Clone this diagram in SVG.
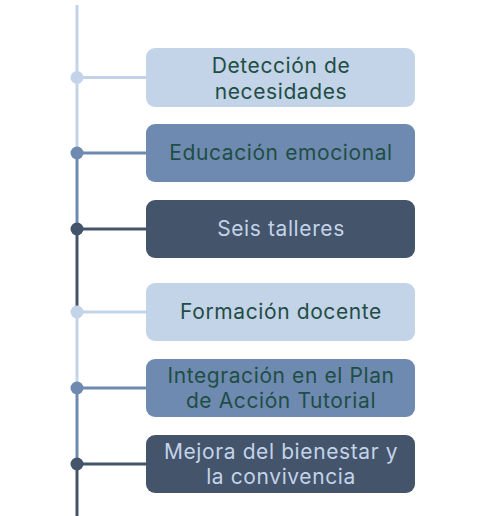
<svg xmlns="http://www.w3.org/2000/svg" width="477" height="516" viewBox="0 0 477 516">
<style>
.l{fill:#c3d3e8}.m{fill:#6f8ab1}.d{fill:#44546b}
.sl{stroke:#c3d3e8}.sm{stroke:#6f8ab1}.sd{stroke:#44546b}
line{stroke-width:3}
text{font-family:Inter,"Noto Sans",sans-serif;font-size:21px;letter-spacing:0.6px;text-anchor:middle}
.tg{fill:#1f4e44}.tl{fill:#c3d3e8}
</style>
<rect width="477" height="516" fill="#ffffff"/>
<g id="connectors">
<line class="sl" x1="77" y1="5" x2="77" y2="153"/>
<line class="sm" x1="77" y1="153" x2="77" y2="229"/>
<line class="sd" x1="77" y1="229" x2="77" y2="312"/>
<line class="sl" x1="77" y1="312" x2="77" y2="388"/>
<line class="sm" x1="77" y1="388" x2="77" y2="464"/>
<line class="sd" x1="77" y1="464" x2="77" y2="516"/>
<line class="sl" x1="77" y1="77.5" x2="150" y2="77.5"/>
<line class="sm" x1="77" y1="153" x2="150" y2="153"/>
<line class="sd" x1="77" y1="229" x2="150" y2="229"/>
<line class="sl" x1="77" y1="312" x2="150" y2="312"/>
<line class="sm" x1="77" y1="388" x2="150" y2="388"/>
<line class="sd" x1="77" y1="464" x2="150" y2="464"/>
<circle class="l" cx="77" cy="77.5" r="6.5"/>
<circle class="m" cx="77" cy="153" r="6.5"/>
<circle class="d" cx="77" cy="229" r="6.5"/>
<circle class="l" cx="77" cy="312" r="6.5"/>
<circle class="m" cx="77" cy="388" r="6.5"/>
<circle class="d" cx="77" cy="464" r="6.5"/>
</g>
<g id="n1"><rect class="l" x="146" y="48" width="269" height="59" rx="9"/><text class="tg" x="281" y="73">Detección de</text><text class="tg" x="281" y="99">necesidades</text></g>
<g id="n2"><rect class="m" x="146" y="124" width="269" height="58" rx="9"/><text class="tg" x="281" y="160">Educación emocional</text></g>
<g id="n3"><rect class="d" x="146" y="200" width="269" height="58" rx="9"/><text class="tl" x="281" y="236">Seis talleres</text></g>
<g id="n4"><rect class="l" x="146" y="283" width="269" height="58" rx="9"/><text class="tg" x="281" y="319">Formación docente</text></g>
<g id="n5"><rect class="m" x="146" y="359" width="269" height="58" rx="9"/><text class="tg" x="281" y="383">Integración en el Plan</text><text class="tg" x="281" y="408">de Acción Tutorial</text></g>
<g id="n6"><rect class="d" x="146" y="435" width="269" height="58" rx="9"/><text class="tl" x="281" y="459">Mejora del bienestar y</text><text class="tl" x="281" y="484">la convivencia</text></g>
</svg>
